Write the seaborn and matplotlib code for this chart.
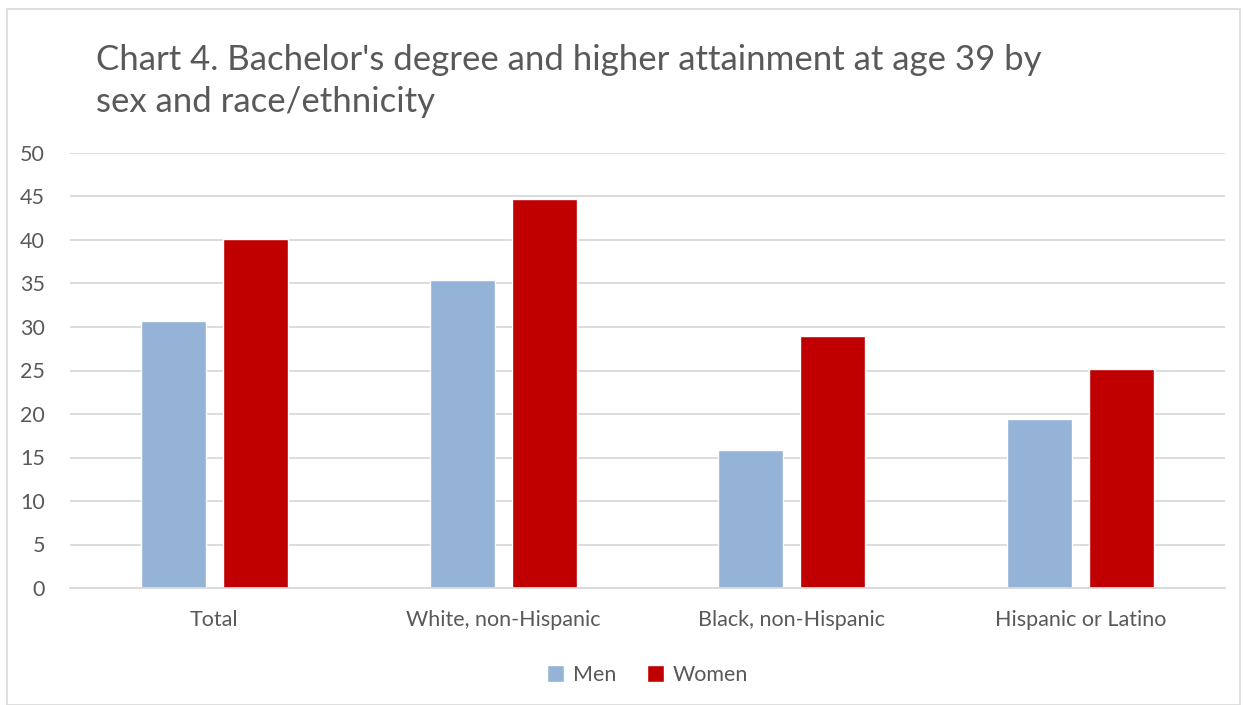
import matplotlib
matplotlib.use("Agg")
import matplotlib.pyplot as plt
import seaborn as sns
import pandas as pd
from matplotlib.patches import Rectangle

categories = ["Total", "White, non-Hispanic", "Black, non-Hispanic", "Hispanic or Latino"]
men = [30.7, 35.4, 15.9, 19.4]
women = [40.1, 44.7, 29.0, 25.2]
series = ["Men", "Women"]
colors = ["#95B3D7", "#C00000"]
title = "Chart 4. Bachelor's degree and higher attainment at age 39 by\nsex and race/ethnicity"

df = pd.DataFrame({
    "category": categories * 2,
    "sex": ["Men"] * len(categories) + ["Women"] * len(categories),
    "value": men + women,
})

sns.set_theme(style="white")
plt.rcParams["font.family"] = ["Lato", "DejaVu Sans"]

fig = plt.figure(figsize=(12.44, 7.05), dpi=100)
ax = fig.add_axes([70 / 1244, 1 - 588 / 705, (1225 - 70) / 1244, (588 - 153) / 705])

sns.barplot(data=df, x="category", y="value", hue="sex", order=categories,
            hue_order=series, palette=colors, width=0.568, gap=0.207,
            saturation=1, ax=ax, legend=True)

ax.set_ylim(0, 50)
ax.set_xlim(-0.5, 3.5)
ax.set_yticks(range(0, 51, 5))
ax.yaxis.grid(True, color="#D9D9D9", linewidth=1.3)
ax.set_axisbelow(True)
for s in ["top", "right", "left"]:
    ax.spines[s].set_visible(False)
ax.spines["bottom"].set_color("#D9D9D9")
ax.spines["bottom"].set_linewidth(1.3)
ax.set_xlabel("")
ax.set_ylabel("")
ax.tick_params(axis="y", length=0, pad=18, labelsize=15.5, labelcolor="#595959")
ax.tick_params(axis="x", length=0, pad=16, labelsize=15.5, labelcolor="#595959")
for lbl in ax.get_yticklabels():
    lbl.set_horizontalalignment("right")

leg = ax.legend(loc="upper center", bbox_to_anchor=(0.5, -0.132), ncol=2,
                frameon=False, fontsize=15.5, handlelength=0.8, handleheight=0.8,
                handletextpad=0.4, columnspacing=1.4)
for t in leg.get_texts():
    t.set_color("#595959")

fig.text(96 / 1244, 1 - 44 / 705, title, fontsize=25, color="#595959",
         va="top", ha="left", linespacing=1.4)

fig.patches.append(Rectangle((7 / 1244, 0), (1240 - 7) / 1244, 1 - 9 / 705,
                             transform=fig.transFigure, fill=False,
                             edgecolor="#D9D9D9", linewidth=1.2))

fig.savefig("out.png", dpi=100)
